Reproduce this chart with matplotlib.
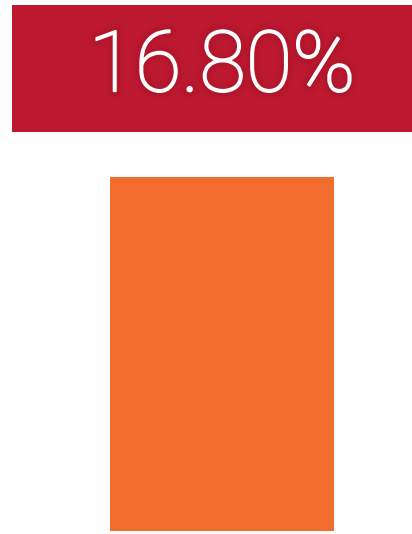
import matplotlib
matplotlib.use('Agg')
import matplotlib.pyplot as plt
import matplotlib.patheffects as pe
from matplotlib.patches import Rectangle

# data
label = '16.80%'
categories = ['share']
values = [16.80]

W, H = 412, 534
fig = plt.figure(figsize=(W / 100, H / 100), dpi=100)
fig.patch.set_facecolor('white')

# red banner with the headline number
ban = fig.add_axes([12 / W, 1 - 132 / H, 400 / W, 127 / H])
ban.set_xlim(0, 1)
ban.set_ylim(0, 1)
ban.add_patch(Rectangle((0, 0), 1, 1, color='#BC1830', transform=ban.transAxes))
ban.axis('off')
glow = [pe.withStroke(linewidth=11, foreground='#8a0f22', alpha=0.08),
        pe.withStroke(linewidth=6, foreground='#8a0f22', alpha=0.12),
        pe.withStroke(linewidth=1.3, foreground='white'),
        pe.Normal()]
ban.text((222 - 12) / 400, 1 - (68 - 5) / 127, label, color='white',
         fontsize=61, family='Roboto', fontweight='light',
         ha='center', va='center', path_effects=glow)

# single orange bar
ax = fig.add_axes([110 / W, 1 - 531 / H, 224 / W, 354 / H])
ax.bar(categories, values, width=1.0, color='#F26B2F')
ax.set_xlim(-0.5, 0.5)
ax.set_ylim(0, max(values))
ax.axis('off')

fig.savefig('out.png', dpi=100)
